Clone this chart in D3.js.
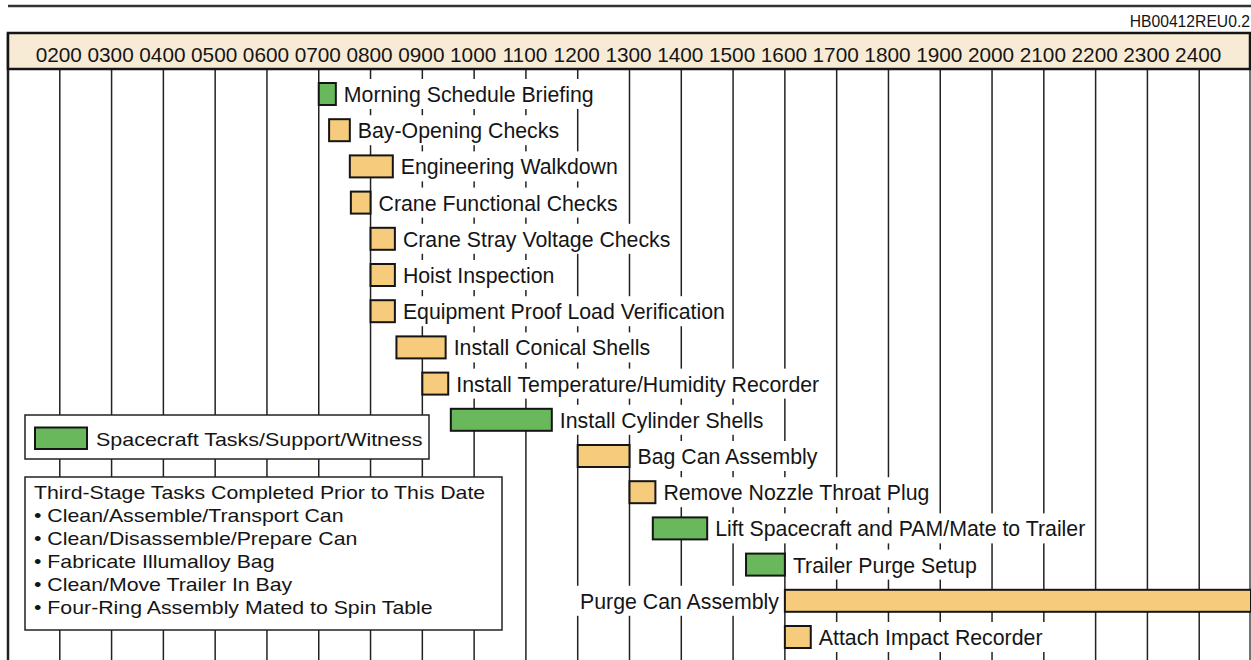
<!DOCTYPE html>
<html>
<head>
<meta charset="utf-8">
<script src="https://cdn.jsdelivr.net/npm/d3@7"></script>
<style>
  body { margin: 0; background: #fff; }
  svg { display: block; font-family: "Liberation Sans", Arial, Helvetica, sans-serif; }
</style>
</head>
<body>
<svg id="chart" width="1251" height="660"></svg>
<script>
// task rows, top to bottom
var tasks = [
  'Morning Schedule Briefing',
  'Bay-Opening Checks',
  'Engineering Walkdown',
  'Crane Functional Checks',
  'Crane Stray Voltage Checks',
  'Hoist Inspection',
  'Equipment Proof Load Verification',
  'Install Conical Shells',
  'Install Temperature/Humidity Recorder',
  'Install Cylinder Shells',
  'Bag Can Assembly',
  'Remove Nozzle Throat Plug',
  'Lift Spacecraft and PAM/Mate to Trailer',
  'Trailer Purge Setup',
  'Purge Can Assembly',
  'Attach Impact Recorder'
];
// start / end in hours of the day
var starts = [7.0, 7.2, 7.6, 7.62, 8.0, 8.0, 8.0, 8.5, 9.0, 9.55, 12.0, 13.0, 13.45, 15.25, 16.0, 16.0];
var ends   = [7.33, 7.6, 8.43, 8.0, 8.47, 8.47, 8.47, 9.45, 9.5, 11.5, 13.0, 13.5, 14.5, 16.0, 25.0, 16.5];
// sc = spacecraft task, ts = third-stage task
var kinds  = ['sc', 'ts', 'ts', 'ts', 'ts', 'ts', 'ts', 'ts', 'ts', 'sc', 'ts', 'ts', 'sc', 'sc', 'ts', 'ts'];
// labels placed left of the bar
var labelLeft = ['Purge Can Assembly'];

var hours = d3.range(2, 25);
var hourLabels = hours.map(function(h) { return (h < 10 ? '0' : '') + h + '00'; });

var legendText = 'Spacecraft Tasks/Support/Witness';
var noteTitle = 'Third-Stage Tasks Completed Prior to This Date';
var noteItems = [
  'Clean/Assemble/Transport Can',
  'Clean/Disassemble/Prepare Can',
  'Fabricate Illumalloy Bag',
  'Clean/Move Trailer In Bay',
  'Four-Ring Assembly Mated to Spin Table'
];
var docId = 'HB00412REU0.2';

var colors = { sc: '#69b85b', ts: '#f6cb7b' };
var ink = '#151515';

var svg = d3.select('#chart');
var left = 8, right = 1250, headTop = 33, headBot = 69, bottom = 660;

var x = d3.scaleLinear().domain([1, 25]).range([left, right + 1]);
var y = d3.scalePoint().domain(tasks).range([94, 637]);
var barH = 22;

// top rule and document id
svg.append('line')
  .attr('x1', left).attr('x2', 1251).attr('y1', 6).attr('y2', 6)
  .attr('stroke', '#333').attr('stroke-width', 2.5);
svg.append('text')
  .attr('x', 1250).attr('y', 27)
  .attr('text-anchor', 'end')
  .attr('font-size', 15.7).attr('fill', ink)
  .text(docId);

// hour gridlines
svg.append('g').selectAll('line')
  .data(hours).enter().append('line')
  .attr('x1', function(d) { return x(d); })
  .attr('x2', function(d) { return x(d); })
  .attr('y1', headBot).attr('y2', bottom)
  .attr('stroke', '#222').attr('stroke-width', 1.5);

// frame sides
svg.append('line')
  .attr('x1', left).attr('x2', left).attr('y1', headTop).attr('y2', bottom)
  .attr('stroke', '#222').attr('stroke-width', 2.5);
svg.append('line')
  .attr('x1', right).attr('x2', right).attr('y1', headTop).attr('y2', bottom)
  .attr('stroke', '#444').attr('stroke-width', 1.5);

// header band with hour labels
svg.append('rect')
  .attr('x', left).attr('y', headTop)
  .attr('width', right - left).attr('height', headBot - headTop)
  .attr('fill', '#f8ebd5').attr('stroke', ink).attr('stroke-width', 2.5);

var axis = d3.axisTop(x)
  .tickValues(hours)
  .tickSize(0)
  .tickFormat(function(d, i) { return hourLabels[i]; });
var ax = svg.append('g')
  .attr('transform', 'translate(0,' + 44 + ')')
  .call(axis);
ax.select('.domain').remove();
ax.selectAll('text')
  .attr('y', 18).attr('dy', null)
  .attr('dx', -1.5)
  .attr('font-size', 20.8)
  .attr('font-family', '"Liberation Sans", Arial, sans-serif')
  .attr('fill', ink);

// legend boxes (white, hide the gridlines)
var lg = svg.append('g');
lg.append('rect')
  .attr('x', 25).attr('y', 415).attr('width', 404).attr('height', 44)
  .attr('fill', '#fff').attr('stroke', '#222').attr('stroke-width', 1.5);
lg.append('rect')
  .attr('x', 35).attr('y', 427.5).attr('width', 52).attr('height', 21.5)
  .attr('fill', colors.sc).attr('stroke', ink).attr('stroke-width', 2);
// legend type is set wide in the original, so stretch it horizontally
lg.append('text')
  .attr('transform', 'translate(96,446) scale(1.13,1)')
  .attr('font-size', 19).attr('fill', ink)
  .text(legendText);

lg.append('rect')
  .attr('x', 25).attr('y', 477).attr('width', 477).attr('height', 153)
  .attr('fill', '#fff').attr('stroke', '#222').attr('stroke-width', 1.5);
var note = lg.append('text')
  .attr('transform', 'translate(34,498.5) scale(1.145,1)')
  .attr('font-size', 18.6).attr('fill', ink);
note.append('tspan').attr('x', 0).text(noteTitle);
noteItems.forEach(function(t) {
  note.append('tspan').attr('x', 0).attr('dy', 23.2).text('\u2022 ' + t);
});

// task rows
var rows = svg.append('g').selectAll('g')
  .data(tasks).enter().append('g')
  .attr('transform', function(d) { return 'translate(0,' + y(d) + ')'; });

rows.each(function(d, i) {
  var g = d3.select(this);
  var onLeft = labelLeft.indexOf(d) >= 0;
  var x0 = x(starts[i]), x1 = Math.min(x(ends[i]), 1251);

  var t = g.append('text')
    .attr('x', onLeft ? x0 - 6 : x1 + 8)
    .attr('y', 8)
    .attr('text-anchor', onLeft ? 'end' : 'start')
    .attr('font-size', 21.3).attr('fill', ink)
    .text(d);
  var bb = t.node().getBBox();
  g.insert('rect', 'text')
    .attr('x', bb.x - 4).attr('y', -15)
    .attr('width', bb.width + 8).attr('height', 30)
    .attr('fill', '#fff');

  g.append('rect')
    .attr('x', x0).attr('y', -barH / 2)
    .attr('width', x1 - x0).attr('height', barH)
    .attr('fill', colors[kinds[i]])
    .attr('stroke', ink).attr('stroke-width', 2);
});
</script>
</body>
</html>
